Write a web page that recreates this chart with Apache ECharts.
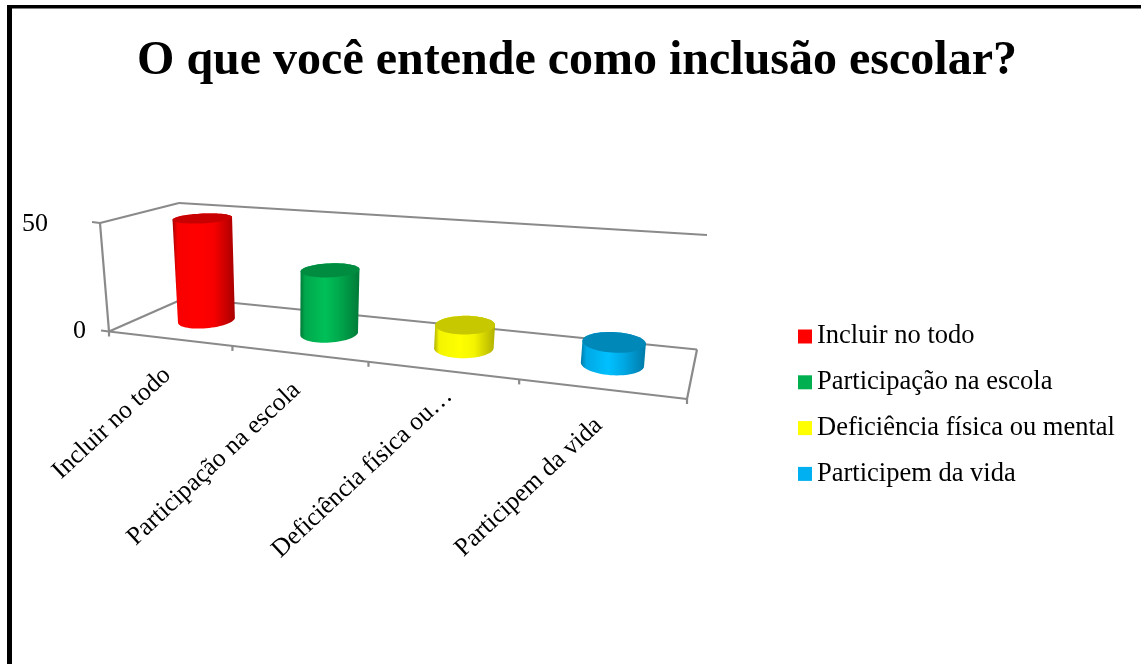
<!DOCTYPE html>
<html>
<head>
<meta charset="utf-8">
<title>O que você entende como inclusão escolar?</title>
<script src="https://cdn.jsdelivr.net/npm/echarts@6/dist/echarts.min.js"></script>
<style>
html, body { margin: 0; padding: 0; background: #fff; }
#main { width: 1141px; height: 664px; }
</style>
</head>
<body>
<div id="main"></div>
<script>
var titleText = 'O que você entende como inclusão escolar?';
var categories = ['Incluir no todo', 'Participação na escola', 'Deficiência física ou mental', 'Participem da vida'];
var axisLabels = ['Incluir no todo', 'Participação na escola', 'Deficiência física ou…', 'Participem da vida'];
var values = [49, 29, 10, 9];
var yTicks = [0, 50];
var legendColors = ['#ff0000', '#00b050', '#ffff00', '#00b0f0'];
var barColors = ['#f80000', '#00a84c', '#f4f400', '#00a8e4'];
var barLights = ['#ff0000', '#00c058', '#ffff00', '#00c0ff'];
var barEdges = ['#a80000', '#007a38', '#b0b000', '#007aa8'];
var barTops = ['#c80000', '#008c40', '#c8c800', '#0088b8'];

var fontName = '"Liberation Serif", "Times New Roman", serif';
var gridLine = '#8a8a8a';
// the shortened label sits a little higher up than the others
var labelNudge = [[0, 0], [0, 0], [9, -11], [0, 0]];

// builds a function mapping the unit square on to a quad (p00, p10, p11, p01)
function quadMap(q) {
    var x0 = q[0][0], y0 = q[0][1], x1 = q[1][0], y1 = q[1][1];
    var x2 = q[2][0], y2 = q[2][1], x3 = q[3][0], y3 = q[3][1];
    var dx1 = x1 - x2, dx2 = x3 - x2, sx = x0 - x1 + x2 - x3;
    var dy1 = y1 - y2, dy2 = y3 - y2, sy = y0 - y1 + y2 - y3;
    var den = dx1 * dy2 - dx2 * dy1;
    var g = (sx * dy2 - dx2 * sy) / den;
    var h = (dx1 * sy - sx * dy1) / den;
    var a = x1 - x0 + g * x1, b = x3 - x0 + h * x3;
    var d = y1 - y0 + g * y1, e = y3 - y0 + h * y3;
    return function (u, v) {
        var w = g * u + h * v + 1;
        return [(a * u + b * v + x0) / w, (d * u + e * v + y0) / w];
    };
}

// perspective box: front-left, front-right, back-right, back-left
var floorMap = quadMap([[109, 331.5], [687, 399], [697, 349.5], [185, 298]]);
var topMap = quadMap([[100, 223], [697, 264], [707, 235], [179, 203]]);

function project(u, v, h) {
    var a = floorMap(u, v), b = topMap(u, v);
    return [a[0] + (b[0] - a[0]) * h, a[1] + (b[1] - a[1]) * h];
}

function circle(u, v, h, ru, rv) {
    var pts = [];
    for (var i = 0; i < 64; i++) {
        var t = i / 64 * Math.PI * 2;
        pts.push(project(u + ru * Math.cos(t), v + rv * Math.sin(t), h));
    }
    return pts;
}

function hull(points) {
    var p = points.slice().sort(function (a, b) { return a[0] - b[0] || a[1] - b[1]; });
    function cross(o, a, b) { return (a[0] - o[0]) * (b[1] - o[1]) - (a[1] - o[1]) * (b[0] - o[0]); }
    var lower = [], upper = [];
    p.forEach(function (pt) {
        while (lower.length > 1 && cross(lower[lower.length - 2], lower[lower.length - 1], pt) <= 0) lower.pop();
        lower.push(pt);
    });
    p.reverse().forEach(function (pt) {
        while (upper.length > 1 && cross(upper[upper.length - 2], upper[upper.length - 1], pt) <= 0) upper.pop();
        upper.push(pt);
    });
    lower.pop();
    upper.pop();
    return lower.concat(upper);
}

function renderBar(params, api) {
    var cs = params.coordSys;
    var idx = api.value(0);
    var pos = api.coord([idx, api.value(1)]);
    var u = (pos[0] - cs.x) / cs.width;
    var h = (cs.y + cs.height - pos[1]) / cs.height;
    var ru = 0.05, rv = 0.23;
    var base = circle(u, 0.5, 0, ru, rv);
    var top = circle(u, 0.5, h, ru, rv);
    return {
        type: 'group',
        children: [{
            type: 'polygon',
            shape: { points: hull(base.concat(top)) },
            style: {
                fill: new echarts.graphic.LinearGradient(0, 0, 1, 0, [
                    { offset: 0, color: barEdges[idx] },
                    { offset: 0.08, color: barColors[idx] },
                    { offset: 0.42, color: barLights[idx] },
                    { offset: 0.66, color: barColors[idx] },
                    { offset: 1, color: barEdges[idx] }
                ])
            }
        }, {
            type: 'polygon',
            shape: { points: top },
            style: { fill: barTops[idx] }
        }]
    };
}

function line(a, b) {
    return {
        type: 'line',
        shape: { x1: a[0], y1: a[1], x2: b[0], y2: b[1] },
        style: { stroke: gridLine, lineWidth: 2.2 }
    };
}

function label(text, x, y, rotation, align, size) {
    return {
        type: 'text',
        x: x,
        y: y,
        rotation: rotation,
        style: {
            text: text,
            fill: '#000',
            fontFamily: fontName,
            fontSize: size,
            textAlign: align,
            textVerticalAlign: 'middle'
        }
    };
}

function renderBox(params, api) {
    var cs = params.coordSys;
    var kids = [
        line(project(0, 0, 0), project(1, 0, 0)),
        line(project(1, 0, 0), project(1, 1, 0)),
        line(project(1, 1, 0), project(0, 1, 0)),
        line(project(0, 1, 0), project(0, 0, 0)),
        line(project(0, 0, 0), project(0, 0, 1)),
        line(project(0, 0, 1), project(0, 1, 1)),
        line(project(0, 1, 1), project(1, 1, 1))
    ];
    // category ticks along the front edge
    for (var i = 0; i <= categories.length; i++) {
        var p = project(i / categories.length, 0, 0);
        kids.push(line(p, [p[0], p[1] + 5]));
    }
    axisLabels.forEach(function (text, i) {
        var c = api.coord([i, 0]);
        var p = project((c[0] - cs.x) / cs.width, 0, 0);
        kids.push(label(text, p[0] - 2 + labelNudge[i][0], p[1] + 33 + labelNudge[i][1], 43 * Math.PI / 180, 'right', 25.5));
    });
    yTicks.forEach(function (tick) {
        var c = api.coord([0, tick]);
        var p = project(0, 0, (cs.y + cs.height - c[1]) / cs.height);
        kids.push(line([p[0] - 8, p[1] - 1], p));
        kids.push(label(String(tick), tick === 0 ? p[0] - 23 : p[0] - 52, tick === 0 ? p[1] : p[1] + 1.5, 0, 'right', 26));
    });
    return { type: 'group', children: kids };
}

var series = [{
    type: 'custom',
    name: 'box',
    silent: true,
    renderItem: renderBox,
    data: [[0, 0]],
    z: 1
}];
categories.forEach(function (name, i) {
    series.push({
        type: 'custom',
        name: name,
        renderItem: renderBar,
        itemStyle: { color: legendColors[i] },
        data: [[i, values[i]]],
        encode: { x: 0, y: 1 },
        z: 2
    });
});

var chart = echarts.init(document.getElementById('main'));
chart.setOption({
    animation: false,
    backgroundColor: '#fff',
    title: {
        text: titleText,
        left: 572,
        top: 33,
        textAlign: 'center',
        textStyle: { fontFamily: fontName, fontSize: 48, fontWeight: 'bold', color: '#000' }
    },
    legend: {
        data: categories,
        orient: 'vertical',
        left: 793,
        top: 318,
        itemWidth: 14,
        itemHeight: 14,
        itemGap: 18.8,
        icon: 'rect',
        textStyle: { fontFamily: fontName, fontSize: 26.5, color: '#000' }
    },
    grid: { left: 109, top: 223, width: 578, height: 108 },
    xAxis: { type: 'category', data: categories, show: false },
    yAxis: { type: 'value', min: 0, max: 50, interval: 50, show: false },
    graphic: [
        { type: 'rect', shape: { x: 7, y: 5, width: 1134, height: 3.5 }, style: { fill: '#000' } },
        { type: 'rect', shape: { x: 7, y: 5, width: 5, height: 659 }, style: { fill: '#000' } }
    ],
    series: series
});
</script>
</body>
</html>
